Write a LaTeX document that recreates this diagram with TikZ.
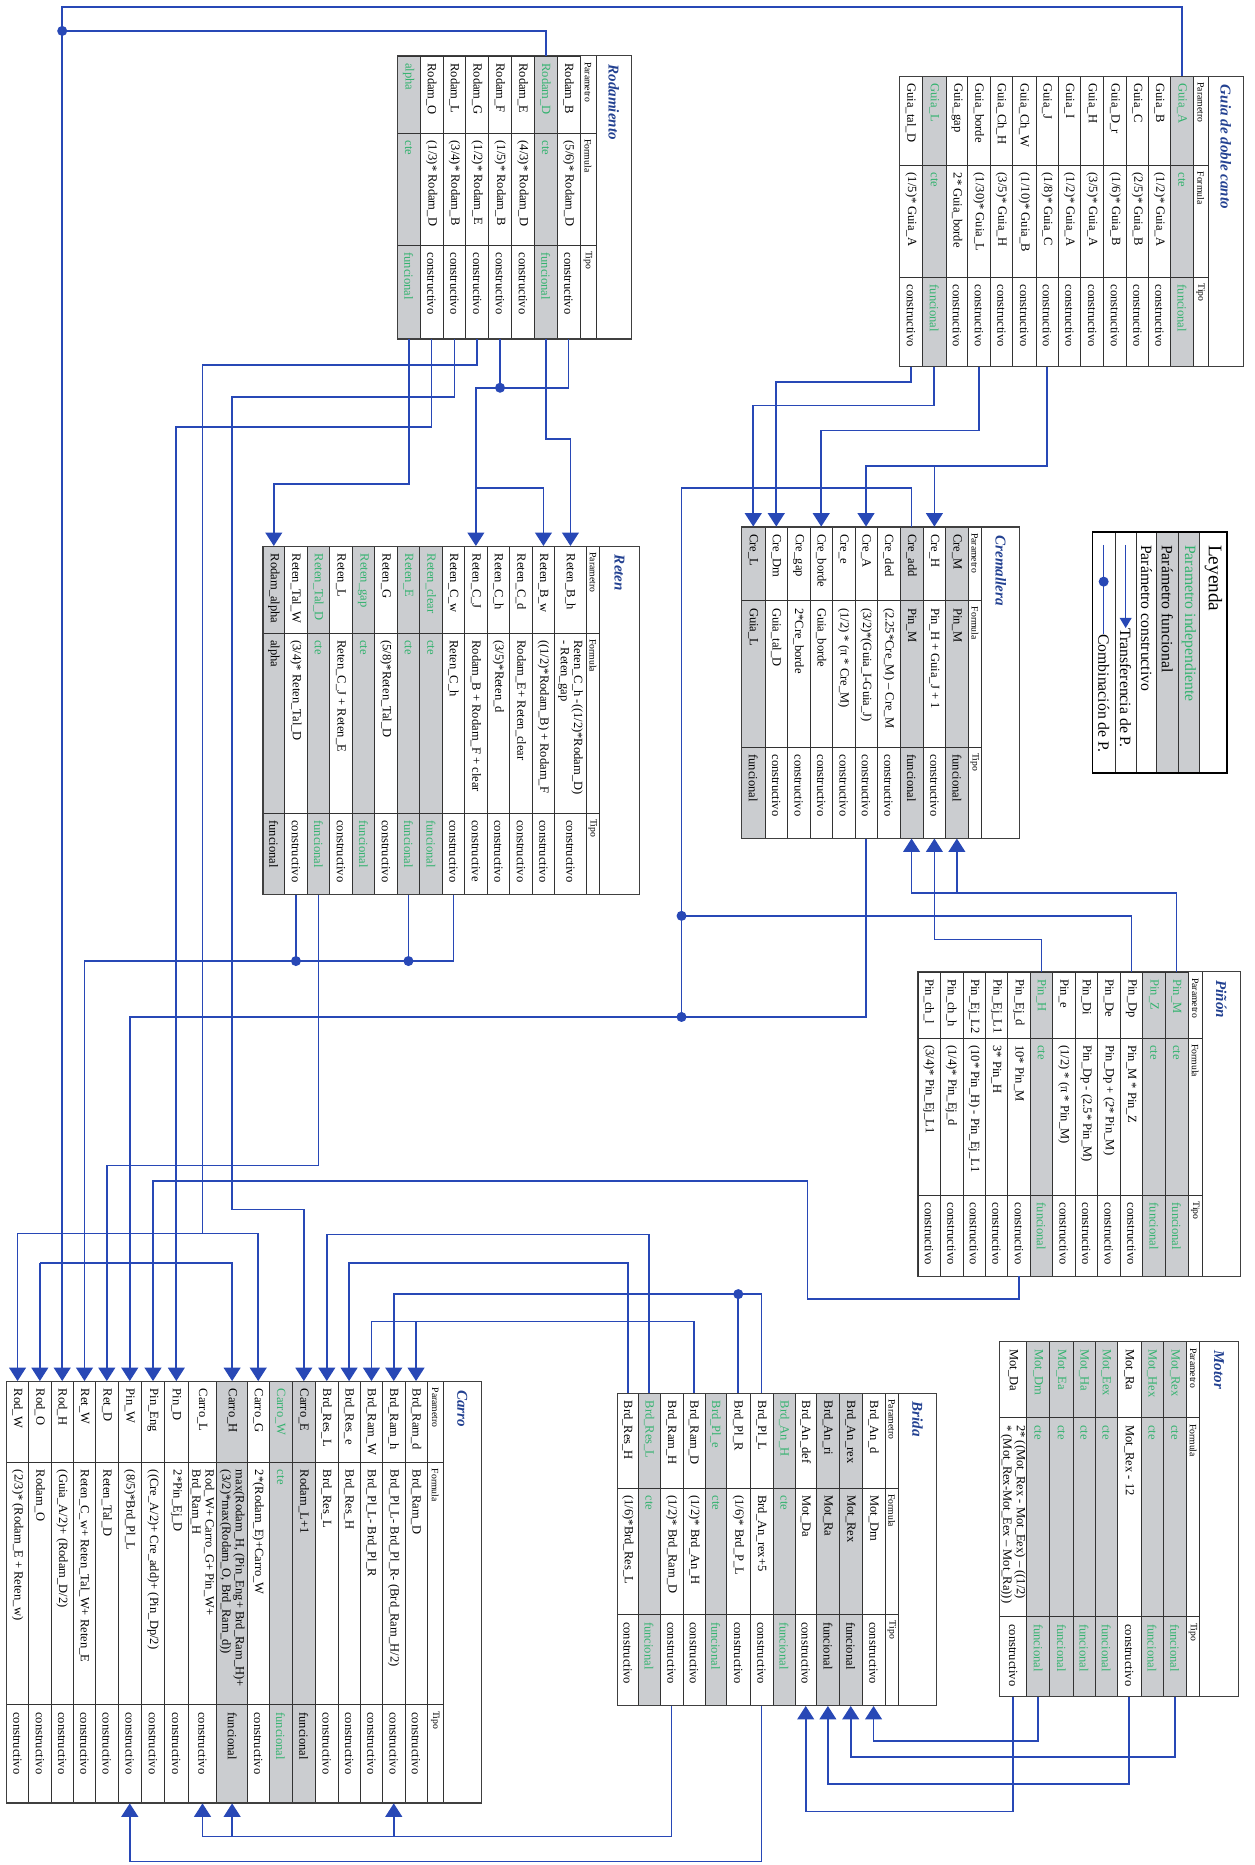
\documentclass[tikz,border=0pt]{standalone}
\usepackage{fontspec}
\setmainfont{Liberation Serif}
\usetikzlibrary{arrows.meta, fit}
\definecolor{azul}{RGB}{40,72,182}
\definecolor{azultit}{RGB}{35,65,145}
\definecolor{gris}{RGB}{203,205,208}
\definecolor{verde}{RGB}{50,178,110}
\tikzset{
    celda/.style={draw=black!80, line width=0.4pt, inner sep=0pt},
    ind/.style={celda, fill=gris},
    fun/.style={celda, fill=gris},
    con/.style={celda, fill=white},
    txt/.style={rotate=-90, anchor=west, inner sep=0pt, align=left, font=\fontsize{7.5}{8}\selectfont},
    indtxt/.style={txt, text=verde},
    funtxt/.style={txt},
    contxt/.style={txt},
    cab/.style={rotate=-90, anchor=west, inner sep=0pt, font=\fontsize{5.8}{6}\selectfont},
    titulo/.style={rotate=-90, anchor=west, inner sep=0pt, text=azultit, font=\fontsize{9}{10}\selectfont\bfseries\itshape},
    borde/.style={draw=black!75, line width=0.7pt},
    linea/.style={draw=azul, line width=1pt},
    flecha/.style={linea, -{Triangle[width=10pt,length=8pt]}},
    punto/.style={circle, fill=azul, inner sep=0pt, minimum size=6pt},
    leytxt/.style={rotate=-90, anchor=west, inner sep=0pt, font=\fontsize{9.4}{10}\selectfont},
}
% fila: nombre, tipo, x1, x2, parametro, formula, tipo
\newcommand{\fila}[7]{%
    \node[#2, fit={(#3,\yT)(#4,\yB)}] (#1) {};
    \node[#2txt] (#1-p) at ({(#3+#4)/2},\yT+6) {#5};
    \node[#2txt] (#1-f) at ({(#3+#4)/2},\yF+6) {#6};
    \node[#2txt] (#1-t) at ({(#3+#4)/2},\yK+6) {#7};
}
% marco: xL, x cabecera, x titulo, xR, titulo, nombre
\newcommand{\marco}[6]{%
    \draw[celda] (#1,\yF) -- (#3,\yF) (#1,\yK) -- (#3,\yK) (#2,\yT) -- (#2,\yB) (#3,\yT) -- (#3,\yB);
    \node[cab] (#6-cp) at ({(#2+#3)/2},\yT+5) {Parametro};
    \node[cab] (#6-cf) at ({(#2+#3)/2},\yF+5) {Formula};
    \node[cab] (#6-ct) at ({(#2+#3)/2},\yK+5) {Tipo};
    \node[titulo] (#6) at ({(#3+#4)/2},\yT+7) {#5};
    \draw[borde] (#1,\yT) rectangle (#4,\yB);
}

\begin{document}
\begin{tikzpicture}[x=0.025cm, y=-0.025cm]
    \useasboundingbox (0,0) rectangle (1055,1568);

    \def\yT{47}\def\yB{285}\def\yF{112}\def\yK{206}
    \fila{roAl}{ind}{334}{353.2}{alpha}{cte}{funcional}
    \fila{roO}{con}{353.2}{372.4}{Rodam\_O}{(1/3)* Rodam\_D}{constructivo}
    \fila{roL}{con}{372.4}{391.6}{Rodam\_L}{(3/4)* Rodam\_B}{constructivo}
    \fila{roG}{con}{391.6}{410.8}{Rodam\_G}{(1/2)* Rodam\_E}{constructivo}
    \fila{roF}{con}{410.8}{430}{Rodam\_F}{(1/5)* Rodam\_B}{constructivo}
    \fila{roE}{con}{430}{449.2}{Rodam\_E}{(4/3)* Rodam\_D}{constructivo}
    \fila{roD}{ind}{449.2}{468.4}{Rodam\_D}{cte}{funcional}
    \fila{roB}{con}{468.4}{487.6}{Rodam\_B}{(5/6)* Rodam\_D}{constructivo}
    \marco{334}{487.6}{501}{531}{Rodamiento}{ro}

    \def\yT{64}\def\yB{308}\def\yF{139}\def\yK{233}
    \fila{guTal}{con}{756.5}{775.4}{Guia\_tal\_D}{(1/5)* Guia\_A}{constructivo}
    \fila{guL}{ind}{775.4}{795.6}{Guia\_L}{cte}{funcional}
    \fila{guGap}{con}{795.6}{813.7}{Guia\_gap}{2* Guia\_borde}{constructivo}
    \fila{guBo}{con}{813.7}{832.5}{Guia\_borde}{(1/30)* Guia\_L}{constructivo}
    \fila{guChH}{con}{832.5}{851.4}{Guia\_Ch\_H}{(3/5)* Guia\_H}{constructivo}
    \fila{guChW}{con}{851.4}{870.9}{Guia\_Ch\_W}{(1/10)* Guia\_B}{constructivo}
    \fila{guJ}{con}{870.9}{889.7}{Guia\_J}{(1/8)* Guia\_C}{constructivo}
    \fila{guI}{con}{889.7}{908.5}{Guia\_I}{(1/2)* Guia\_A}{constructivo}
    \fila{guH}{con}{908.5}{928}{Guia\_H}{(3/5)* Guia\_A}{constructivo}
    \fila{guDr}{con}{928}{946.9}{Guia\_D\_r}{(1/6)* Guia\_B}{constructivo}
    \fila{guC}{con}{946.9}{965.7}{Guia\_C}{(2/5)* Guia\_B}{constructivo}
    \fila{guB}{con}{965.7}{983.9}{Guia\_B}{(1/2)* Guia\_A}{constructivo}
    \fila{guA}{ind}{983.9}{1003.4}{Guia\_A}{cte}{funcional}
    \marco{756.5}{1003.4}{1015.5}{1045.7}{Guia de doble canto}{gu}

    \def\yT{443}\def\yB{704.7}\def\yF{505}\def\yK{628}
    \fila{crL}{fun}{623.5}{643.1}{Cre\_L}{Guia\_L}{funcional}
    \fila{crDm}{con}{643.1}{662.2}{Cre\_Dm}{Guia\_tal\_D}{constructivo}
    \fila{crGap}{con}{662.2}{680.9}{Cre\_gap}{2*Cre\_borde}{constructivo}
    \fila{crBo}{con}{680.9}{700}{Cre\_borde}{Guia\_borde}{constructivo}
    \fila{crE}{con}{700}{718.7}{Cre\_e}{(1/2) * (π * Cre\_M)}{constructivo}
    \fila{crA}{con}{718.7}{737.5}{Cre\_A}{(3/2)*(Guia\_I-Guia\_J)}{constructivo}
    \fila{crDed}{con}{737.5}{756.6}{Cre\_ded}{(2.25*Cre\_M) – Cre\_M}{constructivo}
    \fila{crAdd}{fun}{756.6}{776.2}{Cre\_add}{Pin\_M}{funcional}
    \fila{crH}{con}{776.2}{795}{Cre\_H}{Pin\_H + Guia\_J + 1}{constructivo}
    \fila{crM}{fun}{795}{814}{Cre\_M}{Pin\_M}{funcional}
    \marco{623.5}{814}{825.2}{857.4}{Cremallera}{cr}

    \def\yT{459.3}\def\yB{752.1}\def\yF{532.1}\def\yK{683.4}
    \fila{reAl}{fun}{221.1}{239.3}{Rodam\_alpha}{alpha}{funcional}
    \fila{reTalW}{con}{239.3}{258.3}{Reten\_Tal\_W}{(3/4)* Reten\_Tal\_D}{constructivo}
    \fila{reTalD}{ind}{258.3}{277.1}{Reten\_Tal\_D}{cte}{funcional}
    \fila{reL}{con}{277.1}{296.2}{Reten\_L}{Reten\_C\_J + Reten\_E}{constructivo}
    \fila{reGap}{ind}{296.2}{315}{Reten\_gap}{cte}{funcional}
    \fila{reG}{con}{315}{334}{Reten\_G}{(5/8)*Reten\_Tal\_D}{constructivo}
    \fila{reE}{ind}{334}{352.8}{Reten\_E}{cte}{funcional}
    \fila{reClear}{ind}{352.8}{371.8}{Reten\_clear}{cte}{funcional}
    \fila{reCw}{con}{371.8}{390.6}{Reten\_C\_w}{Reten\_C\_h}{constructivo}
    \fila{reCJ}{con}{390.6}{409.6}{Reten\_C\_J}{Rodam\_B + Rodam\_F + clear}{constructive}
    \fila{reCh}{con}{409.6}{428.4}{Reten\_C\_h}{(3/5)*Reten\_d}{constructivo}
    \fila{reCd}{con}{428.4}{447.5}{Reten\_C\_d}{Rodam\_E+ Reten\_clear}{constructivo}
    \fila{reBw}{con}{447.5}{466.3}{Reten\_B\_w}{((1/2)*Rodam\_B) + Rodam\_F}{constructivo}
    \fila{reBh}{con}{466.3}{492.9}{Reten\_B\_h}{Reten\_C\_h -((1/2)*Rodam\_D)\\- Reten\_gap}{constructivo}
    \marco{221.1}{492.9}{504.1}{537.7}{Reten}{re}

    \def\yT{817.1}\def\yB{1072.9}\def\yF{872.6}\def\yK{1004.8}
    \fila{piChl}{con}{771.7}{790.4}{Pin\_ch\_l}{(3/4)* Pin\_Ej\_L1}{constructivo}
    \fila{piChh}{con}{790.4}{809.5}{Pin\_ch\_h}{(1/4)* Pin\_Ej\_d}{constructivo}
    \fila{piL2}{con}{809.5}{828.3}{Pin\_Ej\_L2}{(10* Pin\_H) - Pin\_Ej\_L1}{constructivo}
    \fila{piL1}{con}{828.3}{847.3}{Pin\_Ej\_L1}{3* Pin\_H}{constructivo}
    \fila{piEjd}{con}{847.3}{866.1}{Pin\_Ej\_d}{10* Pin\_M}{constructivo}
    \fila{piH}{ind}{866.1}{884.9}{Pin\_H}{cte}{funcional}
    \fila{piE}{con}{884.9}{903.9}{Pin\_e}{(1/2) * (π * Pin\_M)}{constructivo}
    \fila{piDi}{con}{903.9}{922.7}{Pin\_Di}{Pin\_Dp - (2.5* Pin\_M)}{constructivo}
    \fila{piDe}{con}{922.7}{941.8}{Pin\_De}{Pin\_Dp + (2* Pin\_M)}{constructivo}
    \fila{piDp}{con}{941.8}{960.6}{Pin\_Dp}{Pin\_M * Pin\_Z}{constructivo}
    \fila{piZ}{ind}{960.6}{979.6}{Pin\_Z}{cte}{funcional}
    \fila{piM}{ind}{979.6}{998.7}{Pin\_M}{cte}{funcional}
    \marco{771.7}{998.7}{1011}{1042.6}{Piñón}{pi}

    \def\yT{1128.1}\def\yB{1426.5}\def\yF{1192}\def\yK{1359.3}
    \fila{moDa}{con}{840.6}{863}{Mot\_Da}{2* ((Mot\_Rex - Mot\_Eex) – ((1/2)\\ * (Mot\_Rex-Mot\_Eex – Mot\_Ra)))}{constructivo}
    \fila{moDm}{ind}{863}{882.6}{Mot\_Dm}{cte}{funcional}
    \fila{moEa}{ind}{882.6}{902.2}{Mot\_Ea}{cte}{funcional}
    \fila{moHa}{ind}{902.2}{920.5}{Mot\_Ha}{cte}{funcional}
    \fila{moEex}{ind}{920.5}{939.5}{Mot\_Eex}{cte}{funcional}
    \fila{moRa}{con}{939.5}{959.2}{Mot\_Ra}{Mot\_Rex - 12}{constructivo}
    \fila{moHex}{ind}{959.2}{977.9}{Mot\_Hex}{cte}{funcional}
    \fila{moRex}{ind}{977.9}{997.6}{Mot\_Rex}{cte}{funcional}
    \marco{840.6}{997.6}{1008.7}{1041}{Motor}{mo}

    \def\yT{1171.3}\def\yB{1434}\def\yF{1251}\def\yK{1357.5}
    \fila{brResH}{con}{519}{536.6}{Brd\_Res\_H}{(1/6)*Brd\_Res\_L}{constructivo}
    \fila{brResL}{ind}{536.6}{554.8}{Brd\_Res\_L}{cte}{funcional}
    \fila{brRamH}{con}{554.8}{574.4}{Brd\_Ram\_H}{(1/2)* Brd\_Ram\_D}{constructivo}
    \fila{brRamD}{con}{574.4}{592.6}{Brd\_Ram\_D}{(1/2)* Brd\_An\_H}{constructivo}
    \fila{brPle}{ind}{592.6}{610.9}{Brd\_Pl\_e}{cte}{funcional}
    \fila{brPlR}{con}{610.9}{630.5}{Brd\_Pl\_R}{(1/6)* Brd\_P\_L}{constructivo}
    \fila{brPlL}{con}{630.5}{650.1}{Brd\_Pl\_L}{Brd\_An\_rex+5}{constructivo}
    \fila{brAnH}{ind}{650.1}{668.3}{Brd\_An\_H}{cte}{funcional}
    \fila{brAndef}{con}{668.3}{686.5}{Brd\_An\_def}{Mot\_Da}{constructivo}
    \fila{brAnri}{fun}{686.5}{705.6}{Brd\_An\_ri}{Mot\_Ra}{funcional}
    \fila{brAnrex}{fun}{705.6}{724.9}{Brd\_An\_rex}{Mot\_Rex}{funcional}
    \fila{brAnd}{con}{724.9}{744}{Brd\_An\_d}{Mot\_Dm}{constructivo}
    \marco{519}{744}{755.5}{787.5}{Brida}{br}

    \def\yT{1161.4}\def\yB{1515.9}\def\yF{1229.6}\def\yK{1433.3}
    \fila{caRodW}{con}{5.4}{24.1}{Rod\_W}{(2/3)* (Rodam\_E + Reten\_w)}{constructivo}
    \fila{caRodO}{con}{24.1}{42.9}{Rod\_O}{Rodam\_O}{constructivo}
    \fila{caRodH}{con}{42.9}{61.7}{Rod\_H}{(Guia\_A/2)+ (Rodam\_D/2)}{constructivo}
    \fila{caRetW}{con}{61.7}{80.4}{Ret\_W}{Reten\_C\_w+ Reten\_Tal\_W+ Reten\_E}{constructivo}
    \fila{caRetD}{con}{80.4}{99.2}{Ret\_D}{Reten\_Tal\_D}{constructivo}
    \fila{caPinW}{con}{99.2}{119}{Pin\_W}{(8/5)*Brd\_Pl\_L}{constructivo}
    \fila{caPinEng}{con}{119}{138.3}{Pin\_Eng}{((Cre\_A/2)+ Cre\_add)+ (Pin\_Dp/2)}{constructivo}
    \fila{caPinD}{con}{138.3}{158.2}{Pin\_D}{2*Pin\_Ej\_D}{constructivo}
    \fila{caL}{con}{158.2}{182.3}{Carro\_L}{Rod\_W+ Carro\_G+ Pin\_W+\\Brd\_Ram\_H}{constructivo}
    \fila{caH}{fun}{182.3}{208}{Carro\_H}{max(Rodam\_H, (Pin\_Eng+ Brd\_Ram\_H)+\\(3/2)*max(Rodam\_O, Brd\_Ram\_d))}{funcional}
    \fila{caG}{con}{208}{226.2}{Carro\_G}{2*(Rodam\_E)+Carro\_W}{constructivo}
    \fila{caW}{ind}{226.2}{245.5}{Carro\_W}{cte}{funcional}
    \fila{caE}{fun}{245.5}{265.4}{Carro\_E}{Rodam\_L+1}{funcional}
    \fila{caResL}{con}{265.4}{284.1}{Brd\_Res\_L}{Brd\_Res\_L}{constructivo}
    \fila{caRese}{con}{284.1}{302.9}{Brd\_Res\_e}{Brd\_Res\_H}{constructivo}
    \fila{caRamW}{con}{302.9}{321.7}{Brd\_Ram\_W}{Brd\_Pl\_L- Brd\_Pl\_R}{constructivo}
    \fila{caRamh}{con}{321.7}{340.4}{Brd\_Ram\_h}{Brd\_Pl\_L- Brd\_Pl\_R- (Brd\_Ram\_H/2)}{constructivo}
    \fila{caRamd}{con}{340.4}{359.2}{Brd\_Ram\_d}{Brd\_Ram\_D}{constructivo}
    \marco{5.4}{359.2}{372.6}{404.8}{Carro}{ca}

    \node[con, fit={(1008.7,447)(1031.7,650)}] (leyTit) {};
    \node[ind, fit={(990.5,447)(1008.7,650)}] (leyInd) {};
    \node[fun, fit={(972.3,447)(990.5,650)}] (leyFun) {};
    \node[con, fit={(955.5,447)(972.3,650)}] (leyCon) {};
    \node[con, fit={(937.3,447)(955.5,650)}] (leyTra) {};
    \node[con, fit={(918.5,447)(937.3,650)}] (leyCom) {};
    \draw[line width=1pt] (918.5,447) rectangle (1031.7,650);
    \node[leytxt, font=\fontsize{11.5}{12}\selectfont] (tLey) at (1020.2,458) {Leyenda};
    \node[leytxt, text=verde] (tInd) at (999.6,458) {Parametro independiente};
    \node[leytxt] (tFun) at (981.4,458) {Parámetro funcional};
    \node[leytxt] (tCon) at (963.9,458) {Parámetro constructivo};
    \node[leytxt] (tTra) at (946.4,528) {Transferencia de P.};
    \node[leytxt] (tCom) at (927.9,533) {Combinación de P.};
    \coordinate (aTra) at (946.4,458);
    \coordinate (aCom) at (927.9,458);
    \draw[linea, line width=0.7pt, -{Triangle[width=7pt,length=6pt]}] (aTra) -- (tTra.west);
    \draw[linea, line width=0.7pt] (aCom) -- (tCom.west);
    \node[punto] (dCom) at (927.9,489) {};

    \draw[flecha] (guA.north) -- (guA.north |- 0,6) -| (caRodH.north);
    \draw[linea] (roD.north) |- (caRodH.north |- 0,26);
    \node[punto] (d1) at (caRodH.north |- 0,26) {};

    \draw[flecha] (roB.south) |- (reCJ.north |- 0,326) -- (reCJ.north);
    \draw[linea] (roF.south) -- (roF.south |- 0,326);
    \node[punto] (d2) at (roF.south |- 0,326) {};
    \draw[flecha] (reCJ.north |- 0,410) -| (reBw.north);
    \draw[flecha] (roD.south) |- (reBh.north |- 0,369) -- (reBh.north);
    \draw[flecha] (roAl.south) |- (reAl.north |- 0,407) -- (reAl.north);

    \draw[flecha] (roO.south) |- (caPinD.north |- 0,359) -- (caPinD.north);
    \draw[flecha] (caRodO.north |- 0,1062) -| (caH.north);
    \draw[flecha] (caRodO.north |- 0,1062) -- (caRodO.north);
    \draw[linea] (roG.south) |- (caL.north |- 0,307) -- (caL.north |- 0,1037);
    \draw[flecha] (caRodW.north |- 0,1037) -| (caG.north);
    \draw[flecha] (caRodW.north |- 0,1037) -- (caRodW.north);
    \draw[flecha] (roL.south) |- (caH.north |- 0,334) -- (caH.north |- 0,1017) -| (caE.north);

    \draw[flecha] (reCw.south) |- (caRetW.north |- 0,808) -- (caRetW.north);
    \draw[linea] (reTalW.south) -- (reTalW.south |- 0,808);
    \draw[linea] (reE.south) -- (reE.south |- 0,808);
    \node[punto] (d3) at (reTalW.south |- 0,808) {};
    \node[punto] (d4) at (reE.south |- 0,808) {};
    \draw[flecha] (reTalD.south) |- (caRetD.north |- 0,980) -- (caRetD.north);

    \draw[flecha] (guTal.south) |- (crDm.north |- 0,321) -- (crDm.north);
    \draw[flecha] (guL.south) |- (crL.north |- 0,341) -- (crL.north);
    \draw[flecha] (guBo.south) |- (crBo.north |- 0,362) -- (crBo.north);
    \draw[flecha] (guJ.south) |- (crA.north |- 0,392) -- (crA.north);
    \draw[flecha] (crH.north |- 0,392) -- (crH.north);

    \coordinate (bus) at (573,410);
    \draw[linea] (crAdd.north) |- (bus) -- (bus |- 0,855);
    \draw[flecha] (crA.south) |- (caPinW.north |- 0,855) -- (caPinW.north);
    \draw[linea] (piDp.north) |- (bus |- 0,770);
    \node[punto] (d5) at (bus |- 0,770) {};
    \node[punto] (d6) at (bus |- 0,855) {};

    \draw[flecha] (piM.north) |- (crAdd.south |- 0,751) -- (crAdd.south);
    \draw[flecha] (crM.south |- 0,751) -- (crM.south);
    \draw[flecha] (piH.north) |- (crH.south |- 0,790) -- (crH.south);
    \draw[flecha] (piEjd.south) |- (679,1092) |- (caPinEng.north |- 0,993) -- (caPinEng.north);

    \draw[flecha] (brResL.north) |- (caResL.north |- 0,1038) -- (caResL.north);
    \draw[flecha] (brResH.north) |- (caRese.north |- 0,1062) -- (caRese.north);
    \draw[flecha] (brPlL.north) |- (caRamh.north |- 0,1088) -- (caRamh.north);
    \draw[linea] (brPlR.north) -- (brPlR.north |- 0,1088);
    \node[punto] (d7) at (brPlR.north |- 0,1088) {};
    \draw[flecha] (brRamD.north) |- (caRamW.north |- 0,1111) -- (caRamW.north);
    \draw[flecha] (caRamd.north |- 0,1111) -- (caRamd.north);

    \draw[flecha] (brRamH.south) |- (caL.south |- 0,1544) -- (caL.south);
    \draw[flecha] (caH.south |- 0,1544) -- (caH.south);
    \draw[flecha] (caRamh.south |- 0,1544) -- (caRamh.south);
    \draw[flecha] (brPlL.south) |- (caPinW.south |- 0,1565) -- (caPinW.south);

    \draw[flecha] (moDm.south) |- (brAnd.south |- 0,1464) -- (brAnd.south);
    \draw[flecha] (moRex.south) |- (brAnrex.south |- 0,1477) -- (brAnrex.south);
    \draw[flecha] (moRa.south) |- (brAnri.south |- 0,1500) -- (brAnri.south);
    \draw[flecha] (moDa.south) |- (brAndef.south |- 0,1523) -- (brAndef.south);
\end{tikzpicture}
\end{document}
